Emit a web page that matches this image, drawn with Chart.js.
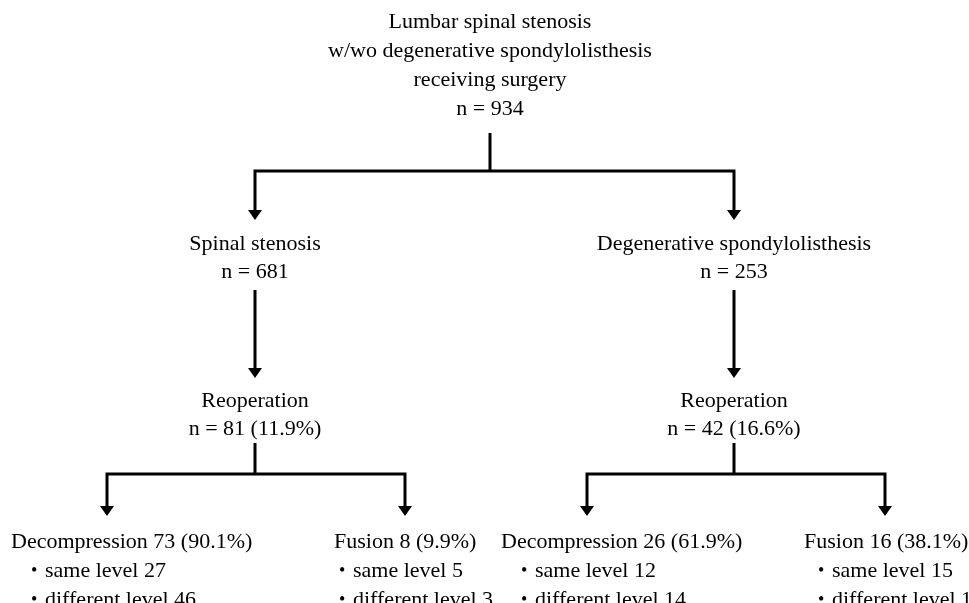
<!DOCTYPE html>
<html>
<head>
<meta charset="utf-8">
<script src="https://cdn.jsdelivr.net/npm/chart.js@4"></script>
<style>
    html, body { margin: 0; padding: 0; background: #fff; }
    #wrap { width: 969px; height: 603px; }
</style>
</head>
<body>
<div id="wrap"><canvas id="flowChart" width="969" height="603"></canvas></div>
<script>
// numbers of the flow diagram
const rootLines = ['Lumbar spinal stenosis', 'w/wo degenerative spondylolisthesis', 'receiving surgery'];
const rootN = 934;
const groupNames = ['Spinal stenosis', 'Degenerative spondylolisthesis'];
const groupN = [681, 253];
const reopName = 'Reoperation';
const reopN = [81, 42];
const reopPct = [11.9, 16.6];
const procNames = ['Decompression', 'Fusion'];
const procN = [[73, 8], [26, 16]];
const procPct = [[90.1, 9.9], [61.9, 38.1]];
const sameLevel = [[27, 5], [12, 15]];
const diffLevel = [[46, 3], [14, 1]];

// layout grid (same units as the 969 x 603 picture)
const rootX = 490;
const groupX = [255, 734];
const branchX = [[107, 405], [587, 885]];
const procTextX = [[11, 334], [501, 804]];
const bulletDx = [[20, 5], [20, 14]];
const rootBase = [28, 57, 86, 115];
const rootStem = [133, 171];
const tipTop = 220;
const groupBase = [250, 278];
const midArrow = [290, 378];
const reopBase = [407, 435];
const reopStem = [443, 474];
const tipBottom = 516;
const procBase = [548, 577, 606];

const HEAD_W = 14, HEAD_H = 10;

// small arrow head used as point style
const head = document.createElement('canvas');
head.width = HEAD_W;
head.height = HEAD_H;
const hctx = head.getContext('2d');
hctx.fillStyle = '#000';
hctx.beginPath();
hctx.moveTo(0, 0);
hctx.lineTo(HEAD_W, 0);
hctx.lineTo(HEAD_W / 2, HEAD_H);
hctx.closePath();
hctx.fill();

const lineStyle = {
    showLine: true,
    borderColor: '#000',
    borderWidth: 3,
    borderJoinStyle: 'miter',
    borderCapStyle: 'butt',
    pointRadius: 0,
    fill: false
};

const datasets = [];
const heads = [];

// root stem and split
datasets.push({ ...lineStyle, data: [{ x: rootX, y: rootStem[0] }, { x: rootX, y: rootStem[1] }] });
datasets.push({ ...lineStyle, data: [
    { x: groupX[0], y: tipTop - HEAD_H + 1 },
    { x: groupX[0], y: rootStem[1] },
    { x: groupX[1], y: rootStem[1] },
    { x: groupX[1], y: tipTop - HEAD_H + 1 }
] });
groupX.forEach(gx => heads.push({ x: gx, y: tipTop - HEAD_H / 2 }));

groupX.forEach((gx, g) => {
    // group -> reoperation
    datasets.push({ ...lineStyle, data: [{ x: gx, y: midArrow[0] }, { x: gx, y: midArrow[1] - HEAD_H + 1 }] });
    heads.push({ x: gx, y: midArrow[1] - HEAD_H / 2 });
    // reoperation -> procedures
    datasets.push({ ...lineStyle, data: [{ x: gx, y: reopStem[0] }, { x: gx, y: reopStem[1] }] });
    datasets.push({ ...lineStyle, data: [
        { x: branchX[g][0], y: tipBottom - HEAD_H + 1 },
        { x: branchX[g][0], y: reopStem[1] },
        { x: branchX[g][1], y: reopStem[1] },
        { x: branchX[g][1], y: tipBottom - HEAD_H + 1 }
    ] });
    branchX[g].forEach(bx => heads.push({ x: bx, y: tipBottom - HEAD_H / 2 }));
});

datasets.push({
    data: heads,
    pointStyle: head,
    pointRadius: 7,
    showLine: false
});

const textPlugin = {
    id: 'flowText',
    afterDatasetsDraw(chart) {
        const ctx = chart.ctx;
        const xs = chart.scales.x, ys = chart.scales.y;
        const put = (txt, x, y, align) => {
            ctx.textAlign = align;
            ctx.fillText(txt, xs.getPixelForValue(x), ys.getPixelForValue(y));
        };
        ctx.save();
        ctx.fillStyle = '#000';
        ctx.font = '22px "Liberation Serif", "Times New Roman", serif';
        ctx.textBaseline = 'alphabetic';

        rootLines.forEach((t, i) => put(t, rootX, rootBase[i], 'center'));
        put('n = ' + rootN, rootX, rootBase[3], 'center');

        groupNames.forEach((name, g) => {
            put(name, groupX[g], groupBase[0], 'center');
            put('n = ' + groupN[g], groupX[g], groupBase[1], 'center');
            put(reopName, groupX[g], reopBase[0], 'center');
            put('n = ' + reopN[g] + ' (' + reopPct[g].toFixed(1) + '%)', groupX[g], reopBase[1], 'center');

            procNames.forEach((p, k) => {
                const tx = procTextX[g][k];
                const bx = tx + bulletDx[g][k];
                put(p + ' ' + procN[g][k] + ' (' + procPct[g][k].toFixed(1) + '%)', tx, procBase[0], 'left');
                ctx.font = '18px "Liberation Serif", "Times New Roman", serif';
                put('\u2022', bx, procBase[1] - 1, 'left');
                put('\u2022', bx, procBase[2] - 1, 'left');
                ctx.font = '22px "Liberation Serif", "Times New Roman", serif';
                put('same level ' + sameLevel[g][k], bx + 14, procBase[1], 'left');
                put('different level ' + diffLevel[g][k], bx + 14, procBase[2], 'left');
            });
        });
        ctx.restore();
    }
};

new Chart(document.getElementById('flowChart'), {
    type: 'scatter',
    data: { datasets: datasets },
    options: {
        responsive: false,
        animation: false,
        events: [],
        layout: { padding: 0, autoPadding: false },
        scales: {
            x: { type: 'linear', min: 0, max: 969, display: false },
            y: { type: 'linear', min: 0, max: 603, reverse: true, display: false }
        },
        plugins: {
            legend: { display: false },
            tooltip: { enabled: false }
        }
    },
    plugins: [textPlugin]
});
</script>
</body>
</html>
